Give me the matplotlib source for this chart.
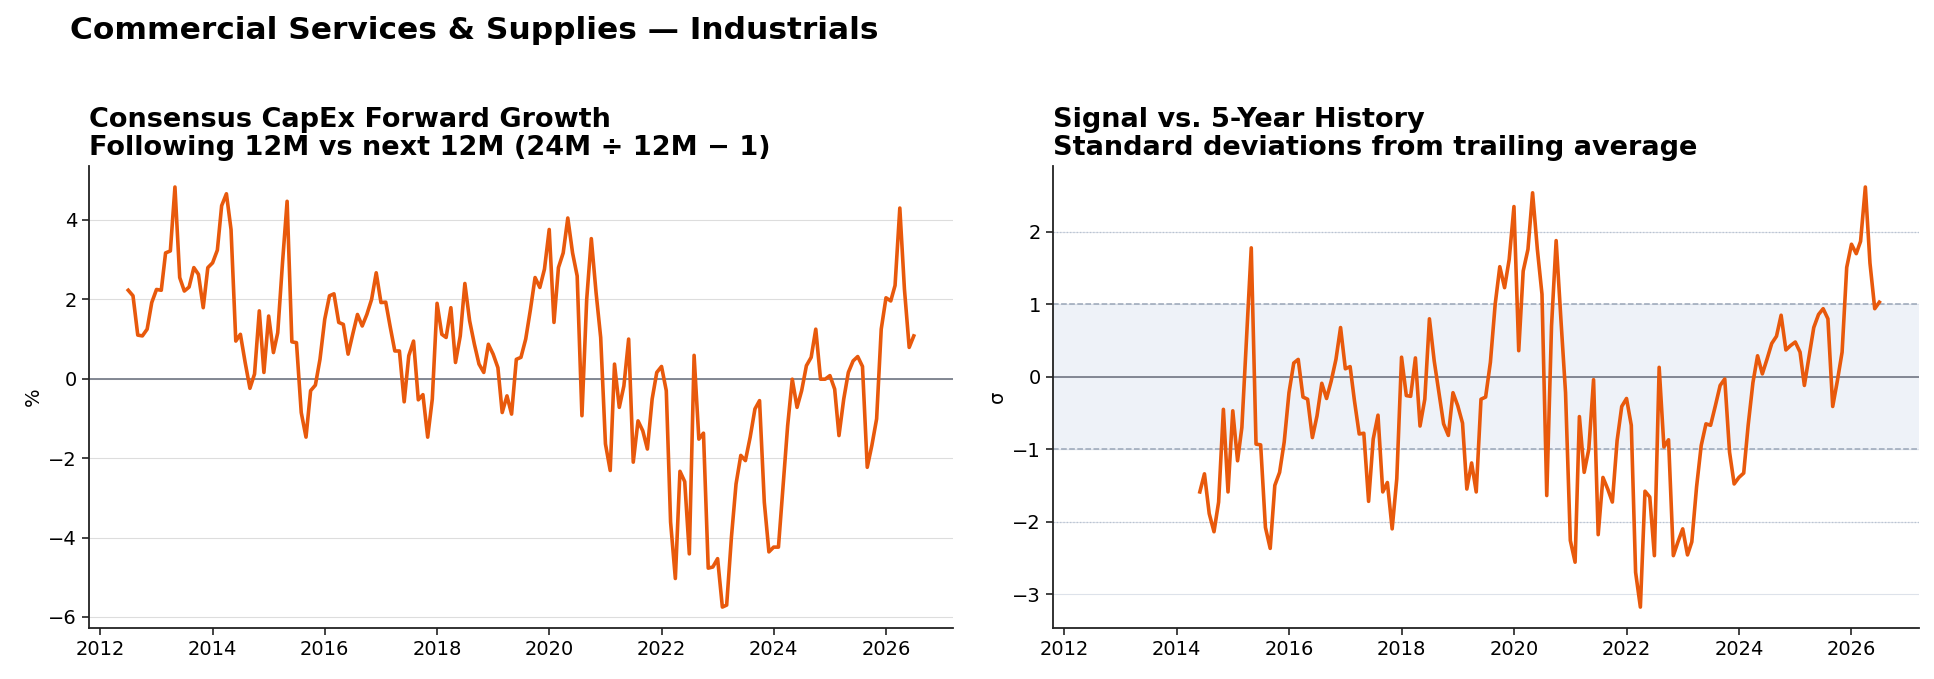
import matplotlib
matplotlib.use("Agg")
import matplotlib.pyplot as plt
import numpy as np
import pandas as pd

# monthly consensus capex forward growth, %, Jul 2012 .. Jul 2026
growth = [
    2.23, 2.09, 1.10, 1.08, 1.25, 1.92, 2.25, 2.23, 3.17, 3.22,
    4.83, 2.55, 2.21, 2.31, 2.80, 2.63, 1.79, 2.80, 2.92, 3.24,
    4.36, 4.66, 3.76, 0.95, 1.12, 0.41, -0.24, 0.12, 1.71, 0.16,
    1.58, 0.66, 1.16, 2.92, 4.47, 0.93, 0.91, -0.85, -1.47, -0.30,
    -0.16, 0.49, 1.50, 2.09, 2.14, 1.42, 1.37, 0.62, 1.12, 1.62,
    1.33, 1.62, 2.00, 2.67, 1.92, 1.93, 1.33, 0.70, 0.70, -0.58,
    0.58, 0.95, -0.53, -0.40, -1.47, -0.51, 1.90, 1.12, 1.04, 1.79,
    0.41, 1.08, 2.40, 1.46, 0.87, 0.37, 0.16, 0.87, 0.62, 0.28,
    -0.85, -0.43, -0.89, 0.49, 0.54, 1.00, 1.75, 2.55, 2.30, 2.76,
    3.76, 1.42, 2.80, 3.17, 4.05, 3.17, 2.59, -0.93, 2.00, 3.53,
    2.17, 1.04, -1.64, -2.31, 0.37, -0.72, -0.18, 1.00, -2.10, -1.06,
    -1.31, -1.77, -0.51, 0.16, 0.31, -0.30, -3.61, -5.03, -2.33, -2.59,
    -4.41, 0.59, -1.52, -1.37, -4.77, -4.74, -4.53, -5.75, -5.70, -3.99,
    -2.65, -1.93, -2.06, -1.47, -0.76, -0.55, -3.11, -4.36, -4.24, -4.24,
    -2.77, -1.18, -0.01, -0.72, -0.30, 0.33, 0.54, 1.25, -0.01, -0.01,
    0.08, -0.26, -1.43, -0.51, 0.16, 0.45, 0.56, 0.31, -2.23, -1.68,
    -1.01, 1.25, 2.04, 1.96, 2.35, 4.30, 2.26, 0.79, 1.08,
]

# z-score vs trailing 5y history, Jun 2014 .. Jul 2026
zscore = [
    -1.59, -1.34, -1.89, -2.14, -1.73, -0.45, -1.59, -0.47, -1.16, -0.70,
    0.55, 1.78, -0.93, -0.94, -2.08, -2.37, -1.50, -1.32, -0.90, -0.22,
    0.19, 0.24, -0.28, -0.31, -0.84, -0.54, -0.09, -0.30, -0.06, 0.24,
    0.68, 0.11, 0.14, -0.33, -0.79, -0.78, -1.72, -0.86, -0.53, -1.59,
    -1.46, -2.10, -1.41, 0.27, -0.26, -0.27, 0.26, -0.68, -0.31, 0.80,
    0.22, -0.22, -0.65, -0.81, -0.22, -0.40, -0.64, -1.55, -1.19, -1.59,
    -0.31, -0.28, 0.20, 1.00, 1.52, 1.23, 1.62, 2.35, 0.36, 1.46,
    1.76, 2.54, 1.76, 1.14, -1.64, 0.70, 1.88, 0.79, -0.22, -2.26,
    -2.56, -0.55, -1.32, -1.00, -0.04, -2.18, -1.39, -1.55, -1.73, -0.88,
    -0.41, -0.30, -0.67, -2.70, -3.18, -1.58, -1.66, -2.47, 0.13, -0.97,
    -0.87, -2.47, -2.28, -2.10, -2.46, -2.28, -1.52, -0.95, -0.65, -0.67,
    -0.40, -0.12, -0.03, -1.04, -1.48, -1.39, -1.33, -0.67, -0.08, 0.29,
    0.04, 0.24, 0.46, 0.56, 0.85, 0.37, 0.43, 0.48, 0.34, -0.12,
    0.29, 0.68, 0.86, 0.94, 0.80, -0.41, -0.06, 0.34, 1.51, 1.83,
    1.70, 1.87, 2.62, 1.57, 0.94, 1.03,
]

dates_g = pd.date_range("2012-07-01", periods=len(growth), freq="MS")
dates_z = pd.date_range("2014-06-01", periods=len(zscore), freq="MS")

orange = "#e8590c"
zero_c = "#7a7f8c"

plt.rcParams['font.family'] = ['DejaVu Sans']
fig = plt.figure(figsize=(19.34, 6.79), dpi=100)
ax1 = fig.add_axes([0.046, 0.075, 0.4468, 0.6805])
ax2 = fig.add_axes([0.5443, 0.075, 0.4478, 0.6805])

fig.text(0.036, 0.976, "Commercial Services & Supplies \u2014 Industrials",
         fontsize=22.5, fontweight='bold', va='top', ha='left')

# left panel
ax1.plot(dates_g, growth, color=orange, lw=2.6, zorder=3)
ax1.axhline(0, color=zero_c, lw=1.3, zorder=2)
ax1.grid(axis='y', color='#dddddd', lw=0.8)
ax1.set_axisbelow(True)
ax1.set_ylabel("%", fontsize=14)
ax1.set_title("Consensus CapEx Forward Growth\nFollowing 12M vs next 12M (24M \u00f7 12M \u2212 1)",
              loc='left', fontsize=19.5, fontweight='bold', pad=8, linespacing=1.1)

# right panel
ax2.axhspan(-1, 1, color='#eef2f8', zorder=0)
ax2.axhline(1, color='#9aa6b8', lw=1.1, ls='--', zorder=1)
ax2.axhline(-1, color='#9aa6b8', lw=1.1, ls='--', zorder=1)
ax2.axhline(2, color='#b8c2d0', lw=0.9, ls=':', zorder=1)
ax2.axhline(-2, color='#b8c2d0', lw=0.9, ls=':', zorder=1)
ax2.axhline(0, color=zero_c, lw=1.3, zorder=2)
ax2.plot(dates_z, zscore, color=orange, lw=2.6, zorder=3)
ax2.set_yticks([-3, -2, -1, 0, 1, 2])
ax2.grid(axis='y', color='#dde2ea', lw=0.8)
ax2.set_axisbelow(True)
ax2.set_ylabel("\u03c3", fontsize=14)
ax2.set_title("Signal vs. 5-Year History\nStandard deviations from trailing average",
              loc='left', fontsize=19.5, fontweight='bold', pad=8, linespacing=1.1)
ax2.set_xlim(ax1.get_xlim())

for ax in (ax1, ax2):
    ax.spines['top'].set_visible(False)
    ax.spines['right'].set_visible(False)
    ax.spines['left'].set_color('#222222')
    ax.spines['bottom'].set_color('#222222')
    ax.spines['left'].set_linewidth(1.3)
    ax.spines['bottom'].set_linewidth(1.3)
    ax.tick_params(labelsize=14, length=5, width=1.2, color='#222222')

fig.savefig("out.png", dpi=100)
